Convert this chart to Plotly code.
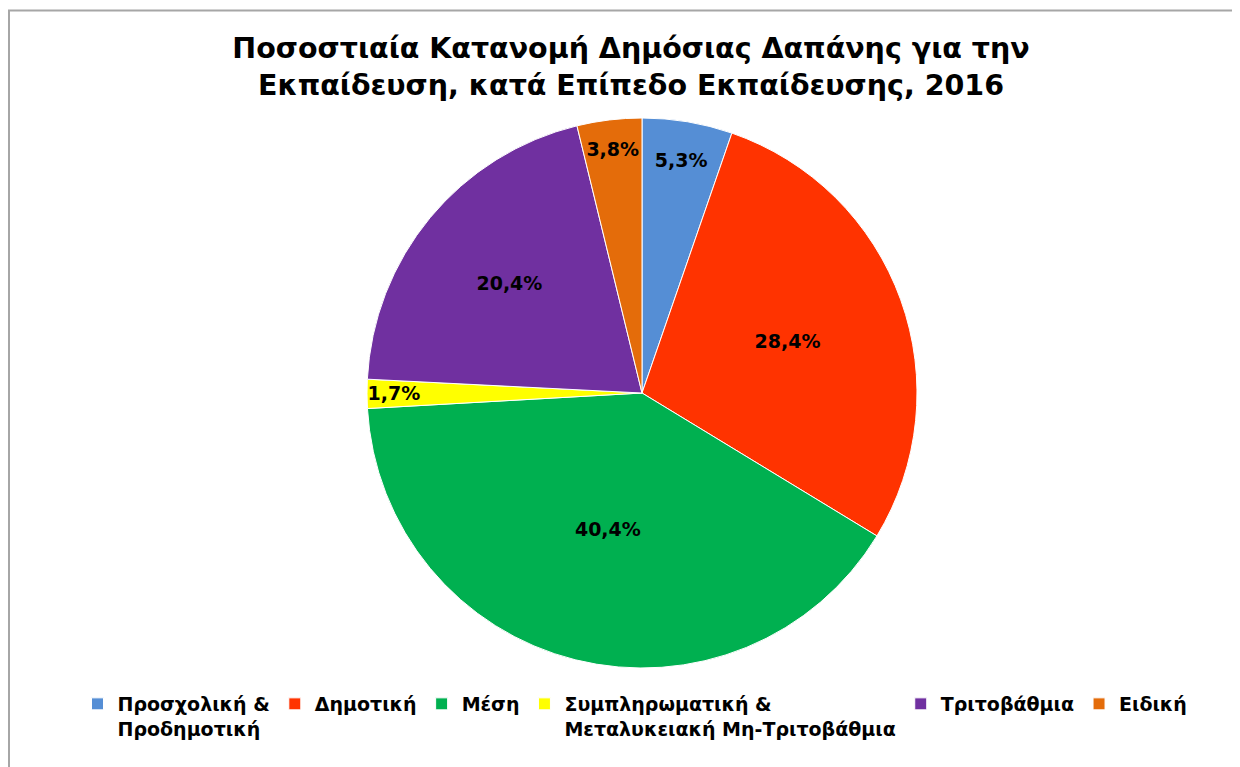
import plotly.graph_objects as go

categories = [
    "Προσχολική &<br>Προδημοτική",
    "Δημοτική",
    "Μέση",
    "Συμπληρωματική &<br>Μεταλυκειακή Μη-Τριτοβάθμια",
    "Τριτοβάθμια",
    "Ειδική",
]
values = [5.3, 28.4, 40.4, 1.7, 20.4, 3.8]
colors = ["#558ED5", "#FF3300", "#00B050", "#FFFF00", "#7030A0", "#E46C0A"]

# figure is drawn 8px in from the page corner (body margin)
W, H = 1232, 759
T, B = 110, 99
ph = H - T - B
pie_x0, pie_x1 = 359, 909

fig = go.Figure(
    go.Pie(
        labels=categories,
        values=values,
        sort=False,
        direction="clockwise",
        rotation=0,
        domain=dict(x=[pie_x0 / W, pie_x1 / W], y=[0, 1]),
        marker=dict(colors=colors, line=dict(color="white", width=1)),
        texttemplate="%{value:.1f}%",
        textposition="inside",
        insidetextorientation="horizontal",
        textfont=dict(family="DejaVu Sans", size=19, color="black", weight="bold"),
        hoverinfo="label+percent",
    )
)


def py(y):
    return (H - B - y) / ph


fig.add_shape(
    type="rect", xref="paper", yref="paper",
    x0=1 / W, x1=1300 / W, y0=py(2.5), y1=py(800),
    line=dict(color="#A6A6A6", width=2),
)

fig.update_layout(
    width=W, height=H,
    margin=dict(l=0, r=0, t=T, b=B),
    paper_bgcolor="white",
    separators=",.",
    uniformtext=dict(minsize=19, mode="show"),
    title=dict(
        text="Ποσοστιαία Κατανομή Δημόσιας Δαπάνης για την<br>Εκπαίδευση, κατά Επίπεδο Εκπαίδευσης, 2016",
        x=623 / W, xref="container", xanchor="center",
        y=1 - 50 / H, yref="container", yanchor="top",
        font=dict(family="DejaVu Sans", size=28.5, color="black", weight="bold"),
    ),
    legend=dict(
        orientation="h",
        xref="container", yref="container",
        x=627 / W, xanchor="center",
        y=1 - 677 / H, yanchor="top",
        valign="top",
        font=dict(family="DejaVu Sans", size=19, color="black", weight="bold"),
        itemwidth=30,
        tracegroupgap=0,
    ),
)

fig.write_html("out.html")
